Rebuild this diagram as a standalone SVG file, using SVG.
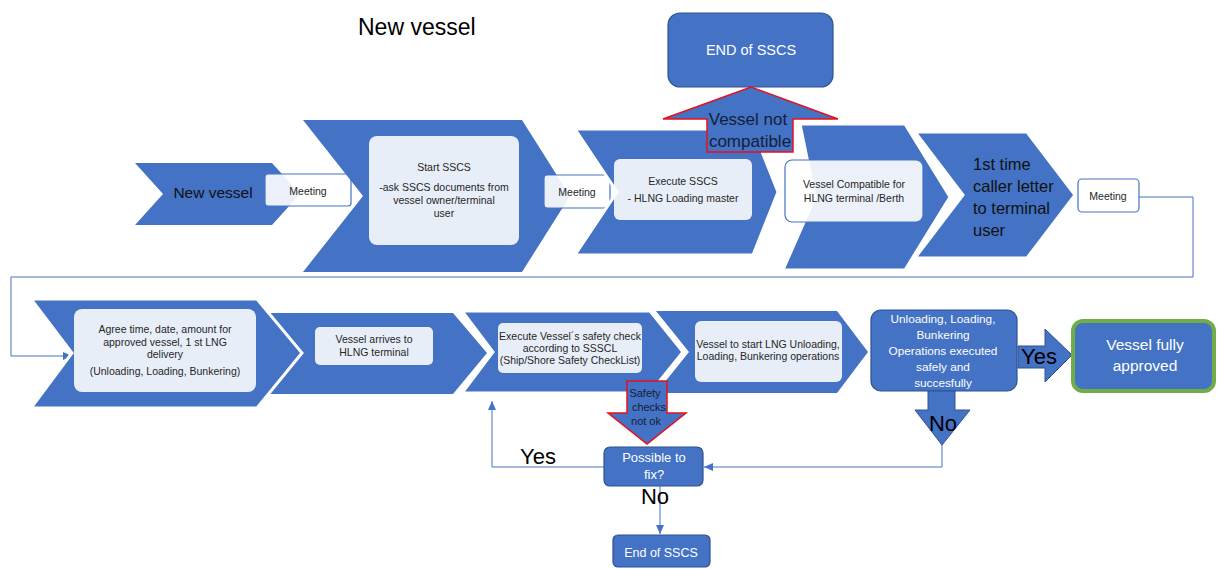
<svg xmlns="http://www.w3.org/2000/svg" width="1217" height="569" viewBox="0 0 1217 569">
<defs>
<style>
text{font-family:"Liberation Sans",Arial,sans-serif}
.chev{fill:#4472c4}
.chw{fill:#4472c4;stroke:#fff;stroke-width:3;stroke-linejoin:miter}
.inner{fill:#fff;fill-opacity:0.88}
.meet{fill:#fff;fill-opacity:0.9;stroke:#4472c4;stroke-width:1.2}
.bbox{fill:#4472c4;stroke:#2f528f;stroke-width:1.2}
.redarrow{fill:#4472c4;stroke:#e8101a;stroke-width:1.5}
.blarrow{fill:#4472c4;stroke:#2f528f;stroke-width:1}
.sm{font-size:10.5px;fill:#262626;text-anchor:middle}
.wt{fill:#fff;text-anchor:middle}
.big{fill:#000;font-size:22px;text-anchor:middle}
.dk{fill:#14203a;text-anchor:middle}
.conn{fill:none;stroke:#4472c4;stroke-width:1}
</style>
<marker id="ah" markerWidth="10" markerHeight="10" refX="9" refY="5" orient="auto" markerUnits="userSpaceOnUse">
<path d="M0,1 L9,5 L0,9 Z" fill="#4472c4"/>
</marker>
</defs>

<text x="358" y="35" font-size="23" fill="#000">New vessel</text>

<g id="connectors">
<polyline class="conn" points="1139,197 1193,197 1193,277 11,277 11,356 72,356" marker-end="url(#ah)"/>
<polyline class="conn" points="942,445 942,467 704,467" marker-end="url(#ah)"/>
<polyline class="conn" points="604,467 492,467 492,401" marker-end="url(#ah)"/>
<line class="conn" x1="660" y1="486" x2="660" y2="534" marker-end="url(#ah)"/>
</g>

<g id="chevron-new-vessel">
<polygon class="chev" points="135,163 272,163 300,194 272,225 135,225 163,194"/>
<text x="213" y="198" font-size="15.5" fill="#111" text-anchor="middle">New vessel</text>
</g>
<g id="meeting-1">
<rect class="meet" x="265" y="174" width="86" height="32" rx="3"/>
<text class="sm" x="308" y="195" font-size="11">Meeting</text>
</g>

<g id="chevron-start-sscs">
<polygon class="chev" points="303,120 522,120 570,196 522,272 303,272 363,196"/>
<rect class="inner" x="369" y="136" width="150" height="109" rx="8"/>
<text class="sm" x="444" y="171">Start SSCS</text>
<text class="sm" x="444" y="191">-ask SSCS documents from</text>
<text class="sm" x="444" y="204">vessel owner/terminal</text>
<text class="sm" x="444" y="217">user</text>
</g>
<g id="meeting-2">
<rect class="meet" x="544" y="175" width="66" height="33" rx="3"/>
<text class="sm" x="577" y="196" font-size="11">Meeting</text>
</g>

<g id="chevron-compatible">
<polygon class="chw" points="800,124 905,124 950,197 905,270 783,270 815,197"/>
<rect class="meet" x="785" y="160" width="138" height="62" rx="7" stroke-width="1.3"/>
<text class="sm" x="854" y="188">Vessel Compatible for</text>
<text class="sm" x="854" y="202">HLNG terminal /Berth</text>
</g>

<g id="chevron-execute-sscs">
<polygon class="chw" points="575,129 753,129 778,192 753,255 575,255 617,192"/>
<rect class="inner" x="614" y="159" width="138" height="61" rx="6"/>
<text class="sm" x="683" y="185">Execute SSCS</text>
<text class="sm" x="683" y="202">- HLNG Loading master</text>
</g>

<g id="chevron-first-time">
<polygon class="chw" points="915,132 1027,132 1075,195 1027,258 915,258 963,195"/>
<text x="973" y="170" font-size="16.5" fill="#111">1st time</text>
<text x="973" y="192" font-size="16.5" fill="#111">caller letter</text>
<text x="973" y="214" font-size="16.5" fill="#111">to terminal</text>
<text x="973" y="236" font-size="16.5" fill="#111">user</text>
</g>
<g id="meeting-3">
<rect class="meet" x="1078" y="179" width="61" height="33" rx="4" stroke-width="1.5"/>
<text class="sm" x="1108" y="200" font-size="11">Meeting</text>
</g>

<g id="end-sscs-top">
<rect class="bbox" x="668" y="13" width="165" height="74" rx="12"/>
<text class="wt" x="751" y="55" font-size="14.5">END of SSCS</text>
</g>
<g id="arrow-not-compatible">
<polygon class="redarrow" points="707,152 707,119 663,119 751,87 838,119 793,119 793,152"/>
<text class="dk" x="748" y="125" font-size="17">Vessel not</text>
<text class="dk" x="750" y="147" font-size="17">compatible</text>
</g>

<g id="chevron-start-lng">
<polygon class="chev" points="656,311 837,311 868,352 837,393 656,393 689,352"/>
<rect class="inner" x="695" y="321" width="147" height="61" rx="6"/>
<text class="sm" x="768" y="348" font-size="9.6">Vessel to start LNG Unloading,</text>
<text class="sm" x="768" y="360" font-size="9.6">Loading, Bunkering operations</text>
</g>
<g id="chevron-arrives">
<polygon class="chev" points="255,313 453,313 487,353 453,394 255,394"/>
<rect class="inner" x="315" y="327" width="118" height="38" rx="5"/>
<text class="sm" x="374" y="343" font-size="10.3">Vessel arrives to</text>
<text class="sm" x="374" y="356" font-size="10.3">HLNG terminal</text>
</g>
<g id="chevron-safety-check">
<polygon class="chw" points="462,311 650,311 683,352 650,393 462,393 493,352"/>
<rect class="inner" x="498" y="323" width="144" height="50" rx="5"/>
<text class="sm" x="570" y="340" font-size="9.3">Execute Vessel´s safety check</text>
<text class="sm" x="570" y="352" font-size="9.3">according to SSSCL</text>
<text class="sm" x="570" y="364" font-size="9.3">(Ship/Shore Safety CheckList)</text>
</g>
<g id="chevron-agree">
<polygon class="chw" points="31,299 257,299 302,353 257,408 31,408 72,353"/>
<rect class="inner" x="74" y="309" width="182" height="83" rx="8"/>
<text class="sm" x="165" y="333" font-size="10.8">Agree time, date, amount for</text>
<text class="sm" x="165" y="346" font-size="10.8">approved vessel, 1 st LNG</text>
<text class="sm" x="165" y="358" font-size="10.8">delivery</text>
<text class="sm" x="165" y="375" font-size="10.8">(Unloading, Loading, Bunkering)</text>
</g>

<g id="operations-executed">
<rect class="bbox" x="871" y="310" width="146" height="81" rx="10"/>
<text class="wt" x="943" y="323" font-size="11.8">Unloading, Loading,</text>
<text class="wt" x="943" y="339" font-size="11.8">Bunkering</text>
<text class="wt" x="943" y="355" font-size="11.8">Operations executed</text>
<text class="wt" x="943" y="371" font-size="11.8">safely and</text>
<text class="wt" x="943" y="387" font-size="11.8">succesfully</text>
</g>
<g id="arrow-yes">
<polygon class="blarrow" points="1018,346 1045,346 1045,329 1072,355 1045,382 1045,368 1018,368"/>
<text class="big" x="1039" y="364">Yes</text>
</g>
<g id="vessel-approved">
<rect x="1073" y="321" width="141" height="70" rx="10" fill="#4472c4" stroke="#70ad47" stroke-width="4"/>
<text class="wt" x="1145" y="350" font-size="15.5">Vessel fully</text>
<text class="wt" x="1145" y="371" font-size="15.5">approved</text>
</g>
<g id="arrow-no">
<polygon class="blarrow" points="928,391 955,391 955,410 970,410 942,445 915,410 928,410"/>
<text class="big" x="943" y="431">No</text>
</g>

<g id="arrow-safety-not-ok">
<polygon class="redarrow" points="627,381 667,381 667,413 686,413 647,444 608,413 627,413"/>
<text class="dk" x="645" y="397" font-size="11">Safety</text>
<text class="dk" x="649" y="411" font-size="11">checks</text>
<text class="dk" x="646" y="425" font-size="11">not ok</text>
</g>

<g id="possible-to-fix">
<rect class="bbox" x="604" y="447" width="99" height="39" rx="6"/>
<text class="wt" x="654" y="462" font-size="13">Possible to</text>
<text class="wt" x="654" y="479" font-size="13">fix?</text>
</g>
<text class="big" x="538" y="464" font-size="21">Yes</text>
<text class="big" x="655" y="504">No</text>

<g id="end-sscs-bottom">
<rect class="bbox" x="613" y="535" width="97" height="32" rx="5"/>
<text class="wt" x="661" y="557" font-size="12.5">End of SSCS</text>
</g>
</svg>
